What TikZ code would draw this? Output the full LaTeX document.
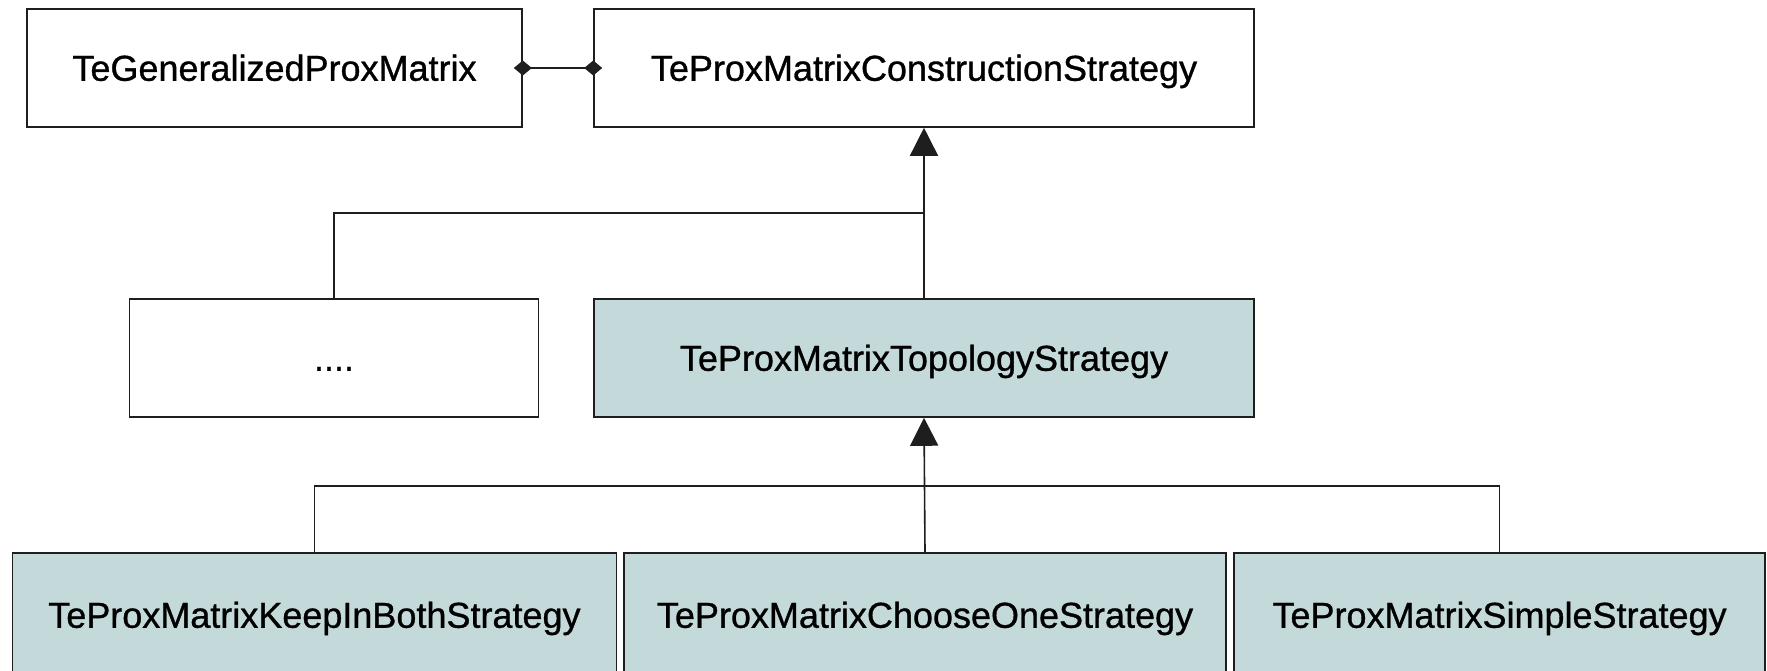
\documentclass[tikz,border=0pt]{standalone}
\usepackage{fontspec}
\setmainfont{Liberation Sans}
\newfontfamily\umlfont{Liberation Sans}[FakeBold=0.9]
\usetikzlibrary{arrows.meta}
\definecolor{stratfill}{RGB}{196,217,217}
\definecolor{edge}{RGB}{30,30,30}
\tikzset{
  cls/.style={draw=edge, line width=1.6pt, fill=white, minimum height=118pt, inner sep=0pt,
    text height=30pt, text depth=4.5pt,
    font=\umlfont\fontsize{36}{42}\selectfont, anchor=center},
  strat/.style={cls, fill=stratfill},
  gen/.style={draw=edge, line width=1.6pt, -{Triangle[length=28pt,width=28pt]}},
  link/.style={draw=edge, line width=1.6pt},
  assoc/.style={draw=edge, line width=1.6pt, {Diamond[length=18pt,width=15pt]}-{Diamond[length=18pt,width=15pt]},
    shorten <=-9pt, shorten >=-9pt}
}
\begin{document}
\begin{tikzpicture}[x=1pt,y=-1pt]
\useasboundingbox[fill=white] (0,0) rectangle (1767,670);
\node[cls, minimum width=495pt] (gpm) at (274.5,68) {TeGeneralizedProxMatrix};
\node[cls, minimum width=660pt] (cons) at (924,68) {TeProxMatrixConstructionStrategy};
\node[cls, minimum width=409pt] (dots) at (334,358) {....};
\node[strat, minimum width=660pt] (topo) at (924,358) {TeProxMatrixTopologyStrategy};
\node[strat, minimum width=604pt, minimum height=124pt] (keep) at (314.4,615) {TeProxMatrixKeepInBothStrategy};
\node[strat, minimum width=602pt, minimum height=124pt] (choose) at (925,615) {TeProxMatrixChooseOneStrategy};
\node[strat, minimum width=531pt, minimum height=124pt] (simple) at (1499.5,615) {TeProxMatrixSimpleStrategy};
\coordinate (j1) at (924,213);
\coordinate (j2) at (924,485.7);
\draw[assoc] (gpm.east) -- (cons.west);
\draw[link] (dots.north) |- (j1);
\draw[gen] (topo.north) -- (cons.south);
\draw[link] (keep.north) |- (j2) -| (simple.north);
\draw[gen] (choose.north) -- (topo.south);
\end{tikzpicture}
\end{document}
